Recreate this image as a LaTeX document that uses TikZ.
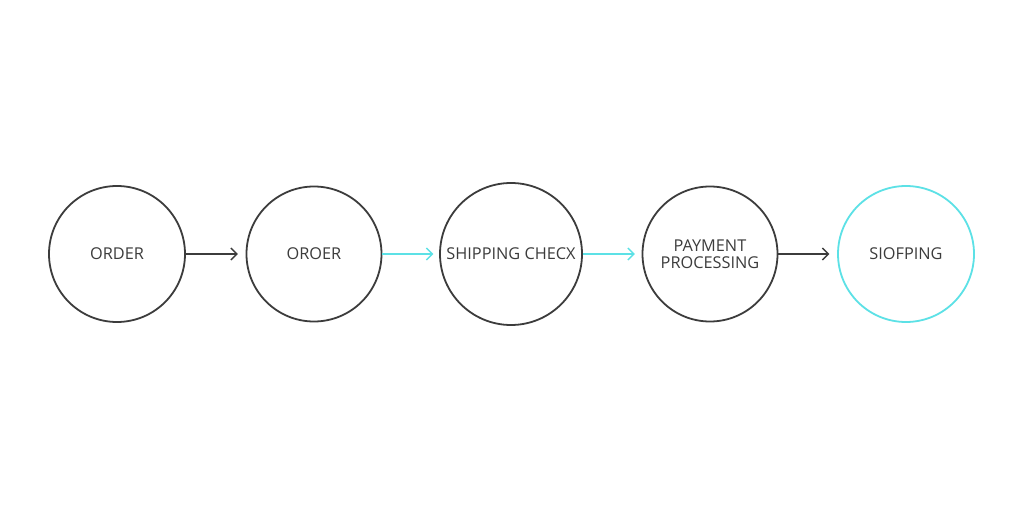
\documentclass[tikz,border=0pt]{standalone}
\usepackage{fontspec}
\setmainfont{Open Sans}
\usetikzlibrary{arrows.meta}
\definecolor{ink}{HTML}{3C3C3C}
\definecolor{teal}{HTML}{5CE1E6}
\begin{document}
\begin{tikzpicture}[x=1pt,y=-1pt,
  stage/.style={circle,draw=ink,line width=1.8pt,inner sep=0pt,font=\fontsize{16.3}{17}\selectfont,text=ink,align=center},
  link/.style={line width=1.4pt,-{Straight Barb[length=6pt,width=12pt,line width=1.4pt]}}]
\fill[white] (0,0) rectangle (1024,510);
\useasboundingbox (0,0) rectangle (1024,510);
\node[stage,minimum size=136pt] (a) at (117,254) {ORDER};
\node[stage,minimum size=135pt] (b) at (314,254) {OROER};
\node[stage,minimum size=142pt] (c) at (511,254) {SHIPPING CHECX};
\node[stage,minimum size=135pt] (d) at (710,254) {PAYMENT\\PROCESSING};
\node[stage,draw=teal,minimum size=136pt] (e) at (906,254) {SIOFPING};
\draw[link,draw=ink] (a.east) -- ++(52,0) coordinate (a2);
\draw[link,draw=teal] (b.east) -- ++(51,0) coordinate (b2);
\draw[link,draw=teal] (c.east) -- ++(52,0) coordinate (c2);
\draw[link,draw=ink] (d.east) -- ++(51,0) coordinate (d2);
\end{tikzpicture}
\end{document}
